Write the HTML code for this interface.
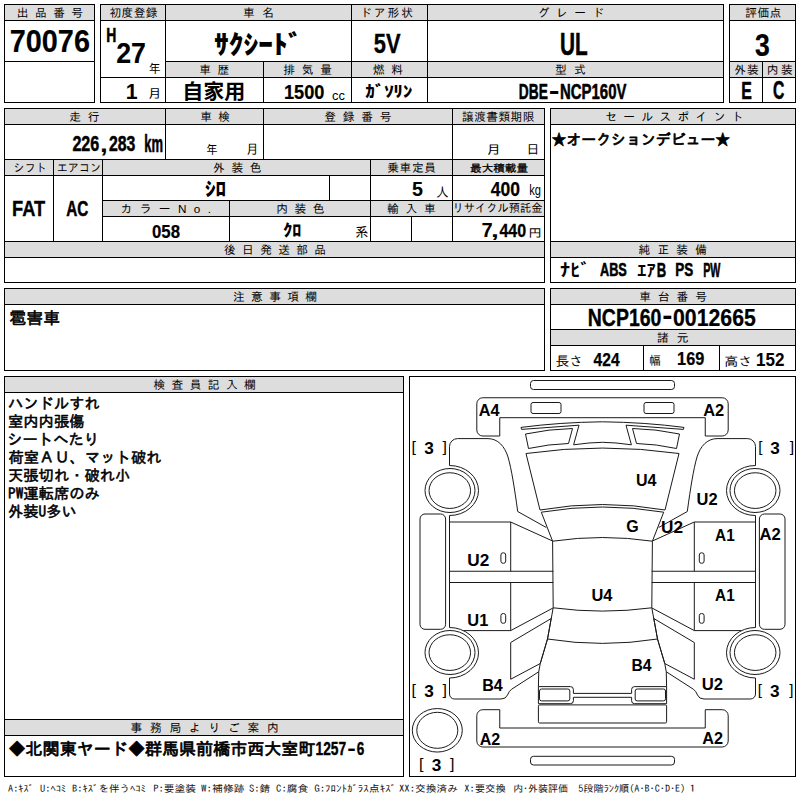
<!DOCTYPE html>
<html lang="ja"><head><meta charset="utf-8"><title>出品票</title>
<style>html,body{margin:0;padding:0;background:#fff;width:800px;height:800px;overflow:hidden}svg{display:block}text{white-space:pre}</style></head>
<body>
<svg width="800" height="800" viewBox="0 0 800 800">
<rect width="800" height="800" fill="#fff"/>
<g shape-rendering="crispEdges">
<rect x="4" y="4" width="90" height="16" fill="#dddddd"/>
<rect x="100" y="4" width="623" height="16" fill="#dddddd"/>
<rect x="165" y="61" width="558" height="16" fill="#dddddd"/>
<rect x="729" y="4" width="66" height="16" fill="#dddddd"/>
<rect x="729" y="61" width="66" height="16" fill="#dddddd"/>
<rect x="4" y="108" width="540" height="16" fill="#dddddd"/>
<rect x="4" y="159" width="540" height="16" fill="#dddddd"/>
<rect x="102" y="200" width="442" height="16" fill="#dddddd"/>
<rect x="4" y="241" width="540" height="16" fill="#dddddd"/>
<rect x="550" y="108" width="245" height="16" fill="#dddddd"/>
<rect x="550" y="241" width="245" height="16" fill="#dddddd"/>
<rect x="4" y="288" width="540" height="16" fill="#dddddd"/>
<rect x="550" y="288" width="245" height="16" fill="#dddddd"/>
<rect x="550" y="329" width="245" height="16" fill="#dddddd"/>
<rect x="4" y="376" width="399" height="16" fill="#dddddd"/>
<rect x="4" y="719" width="399" height="16" fill="#dddddd"/>
<rect x="4" y="4" width="91" height="1" fill="#000"/>
<rect x="4" y="102" width="91" height="1" fill="#000"/>
<rect x="4" y="20" width="91" height="1" fill="#000"/>
<rect x="4" y="61" width="91" height="1" fill="#000"/>
<rect x="100" y="4" width="624" height="1" fill="#000"/>
<rect x="100" y="102" width="624" height="1" fill="#000"/>
<rect x="100" y="20" width="624" height="1" fill="#000"/>
<rect x="165" y="61" width="559" height="1" fill="#000"/>
<rect x="100" y="77" width="624" height="1" fill="#000"/>
<rect x="729" y="4" width="67" height="1" fill="#000"/>
<rect x="729" y="102" width="67" height="1" fill="#000"/>
<rect x="729" y="20" width="67" height="1" fill="#000"/>
<rect x="729" y="61" width="67" height="1" fill="#000"/>
<rect x="729" y="77" width="67" height="1" fill="#000"/>
<rect x="4" y="108" width="541" height="1" fill="#000"/>
<rect x="4" y="282" width="541" height="1" fill="#000"/>
<rect x="4" y="124" width="541" height="1" fill="#000"/>
<rect x="4" y="159" width="541" height="1" fill="#000"/>
<rect x="4" y="175" width="541" height="1" fill="#000"/>
<rect x="102" y="200" width="443" height="1" fill="#000"/>
<rect x="102" y="216" width="443" height="1" fill="#000"/>
<rect x="4" y="241" width="541" height="1" fill="#000"/>
<rect x="4" y="257" width="541" height="1" fill="#000"/>
<rect x="550" y="108" width="246" height="1" fill="#000"/>
<rect x="550" y="282" width="246" height="1" fill="#000"/>
<rect x="550" y="124" width="246" height="1" fill="#000"/>
<rect x="550" y="241" width="246" height="1" fill="#000"/>
<rect x="550" y="257" width="246" height="1" fill="#000"/>
<rect x="4" y="288" width="541" height="1" fill="#000"/>
<rect x="4" y="370" width="541" height="1" fill="#000"/>
<rect x="4" y="304" width="541" height="1" fill="#000"/>
<rect x="550" y="288" width="246" height="1" fill="#000"/>
<rect x="550" y="370" width="246" height="1" fill="#000"/>
<rect x="550" y="304" width="246" height="1" fill="#000"/>
<rect x="550" y="329" width="246" height="1" fill="#000"/>
<rect x="550" y="345" width="246" height="1" fill="#000"/>
<rect x="4" y="376" width="400" height="1" fill="#000"/>
<rect x="4" y="776" width="400" height="1" fill="#000"/>
<rect x="4" y="392" width="400" height="1" fill="#000"/>
<rect x="4" y="719" width="400" height="1" fill="#000"/>
<rect x="4" y="735" width="400" height="1" fill="#000"/>
<rect x="409" y="376" width="387" height="1" fill="#000"/>
<rect x="409" y="776" width="387" height="1" fill="#000"/>
<rect x="4" y="4" width="1" height="99" fill="#000"/>
<rect x="94" y="4" width="1" height="99" fill="#000"/>
<rect x="100" y="4" width="1" height="99" fill="#000"/>
<rect x="723" y="4" width="1" height="99" fill="#000"/>
<rect x="165" y="4" width="1" height="99" fill="#000"/>
<rect x="263" y="61" width="1" height="42" fill="#000"/>
<rect x="351" y="4" width="1" height="99" fill="#000"/>
<rect x="427" y="4" width="1" height="99" fill="#000"/>
<rect x="729" y="4" width="1" height="99" fill="#000"/>
<rect x="795" y="4" width="1" height="99" fill="#000"/>
<rect x="762" y="61" width="1" height="42" fill="#000"/>
<rect x="4" y="108" width="1" height="175" fill="#000"/>
<rect x="544" y="108" width="1" height="175" fill="#000"/>
<rect x="165" y="108" width="1" height="52" fill="#000"/>
<rect x="263" y="108" width="1" height="52" fill="#000"/>
<rect x="452" y="108" width="1" height="134" fill="#000"/>
<rect x="53" y="159" width="1" height="83" fill="#000"/>
<rect x="102" y="159" width="1" height="83" fill="#000"/>
<rect x="370" y="159" width="1" height="83" fill="#000"/>
<rect x="329" y="175" width="1" height="26" fill="#000"/>
<rect x="229" y="200" width="1" height="42" fill="#000"/>
<rect x="411" y="216" width="1" height="26" fill="#000"/>
<rect x="550" y="108" width="1" height="175" fill="#000"/>
<rect x="795" y="108" width="1" height="175" fill="#000"/>
<rect x="4" y="288" width="1" height="83" fill="#000"/>
<rect x="544" y="288" width="1" height="83" fill="#000"/>
<rect x="550" y="288" width="1" height="83" fill="#000"/>
<rect x="795" y="288" width="1" height="83" fill="#000"/>
<rect x="643" y="345" width="1" height="26" fill="#000"/>
<rect x="719" y="345" width="1" height="26" fill="#000"/>
<rect x="4" y="376" width="1" height="401" fill="#000"/>
<rect x="403" y="376" width="1" height="401" fill="#000"/>
<rect x="409" y="376" width="1" height="401" fill="#000"/>
<rect x="795" y="376" width="1" height="401" fill="#000"/>
</g>
<g fill="none" stroke="#1a1a1a" stroke-width="1.0" stroke-linejoin="round">
<rect x="530.5" y="380.5" width="144.00" height="9.00" rx="3" ry="3"/>
<rect x="530.5" y="756.3" width="144.00" height="8.70" rx="3" ry="3"/>
<path d="M499.75,417.7 H705.25 V436 H722.2 A6,6 0 0 0 728.2,430 V403.75 A6,6 0 0 0 722.2,397.75 H482.8 A6,6 0 0 0 476.8,403.75 V430 A6,6 0 0 0 482.8,436 H499.75 Z"/>
<path d="M499.75,728 H705.25 V709.7 H722.2 A6,6 0 0 1 728.2,715.7 V741 A6,6 0 0 1 722.2,747 H482.8 A6,6 0 0 1 476.8,741 V715.7 A6,6 0 0 1 482.8,709.7 H499.75 Z"/>
<path d="M579,425.2 L521.6,429.4 L521,427.4 Q560,422.3 602.5,421.8 Q645.0,422.3 684.0,427.4 L683.4,429.4 L626.0,425.2 L631.4,444.8 Q615.0,442.4 602.5,442.3 Q590,442.4 573.6,444.8 Z"/>
<path d="M526,453.5 Q602.5,442.6 679.0,453.5 L665.0,510 Q602.5,499 540,510 Z"/>
<path d="M541.3,512.2 Q602.5,501.8 663.7,512.2 L652.4,541.2 Q602.5,533.8 552.6,541.2 Z"/>
<path d="M552.6,541.2 L553.2,607.8 Q602.5,614.4 651.8,607.8 L652.4,541.2"/>
<path d="M553.2,607.8 L547.5,639 L540.25,663.5 L538.75,671.75 L538.4,686.6 M666.6,686.6 L666.25,671.75 L664.75,663.5 L657.5,639 L651.8,607.8"/>
<path d="M547.5,639 Q602.5,647.8 657.5,639"/>
<path d="M538.4,686.6 V703.7 H570.3 A3,3 0 0 0 573.4,700.7 V697.3 H631.6 V700.7 A3,3 0 0 0 634.7,703.7 H666.6 V686.6"/>
<path d="M538.4,686.6 H570.3 A3,3 0 0 1 573.4,689.6 V693.4 H631.6 V689.6 A3,3 0 0 1 634.7,686.6 H666.6"/>
<rect x="538.4" y="704.9" width="128.20" height="18.10" rx="1.2" ry="1.2"/>
<ellipse cx="437.3" cy="730.3" rx="25" ry="21.75"/>
<ellipse cx="437.3" cy="730.3" rx="20.5" ry="18"/>
<rect x="531" y="402.5" width="30.00" height="11.00" rx="2" ry="2"/>
<path d="M525.5,434 Q549,429 572.5,428.5 L568.5,443.5 Q549,444 528.5,448.5 Z"/>
<path d="M449.5,465.5 V446.6 A8,8 0 0 1 457.5,438.6 H488 C498,438.8 504.5,446 508,457 C511.5,469 514.5,488 517.7,511.5 L546.3,527.5"/>
<path d="M449.5,465.5 A29,25 0 0 1 449.5,515.5"/>
<ellipse cx="450" cy="490.5" rx="25" ry="22"/>
<ellipse cx="449.8" cy="490.6" rx="20.75" ry="17.85"/>
<rect x="420" y="514" width="25.60" height="115.30" rx="5" ry="5"/>
<path d="M449.5,515.5 V627.5"/>
<path d="M449.5,522 H510.7 L552.6,541"/>
<path d="M449.5,571.25 H553.3"/>
<path d="M449.5,582.5 H553.3"/>
<path d="M463.6,630.6 H510.7 L553,608"/>
<path d="M510.7,522 V571.25 M510.7,582.5 V630.5"/>
<rect x="500.9" y="552.8" width="4.80" height="10.50" rx="2.2" ry="2.2"/>
<rect x="500.9" y="613.5" width="4.80" height="9.80" rx="2.2" ry="2.2"/>
<path d="M449.5,627.5 A29,25.25 0 0 1 449.5,678"/>
<ellipse cx="450" cy="652.5" rx="25" ry="22"/>
<ellipse cx="449.8" cy="652.6" rx="20.75" ry="17.85"/>
<path d="M449.5,678 V694 A5,5 0 0 0 454.5,699 H501 Q506,699 507.5,695 Q509,691.2 511.5,689.3 L538.75,671.75"/>
<path d="M510.7,642.5 L551.2,618.5 L547.5,639 L540.25,663.5 L510.7,679.25 Z"/>
<rect x="539.5" y="689" width="30.30" height="11.90" rx="2" ry="2"/>
<g transform="translate(1205.0,0) scale(-1,1)">
<rect x="531" y="402.5" width="30.00" height="11.00" rx="2" ry="2"/>
<path d="M525.5,434 Q549,429 572.5,428.5 L568.5,443.5 Q549,444 528.5,448.5 Z"/>
<path d="M449.5,465.5 V446.6 A8,8 0 0 1 457.5,438.6 H488 C498,438.8 504.5,446 508,457 C511.5,469 514.5,488 517.7,511.5 L546.3,527.5"/>
<path d="M449.5,465.5 A29,25 0 0 1 449.5,515.5"/>
<ellipse cx="450" cy="490.5" rx="25" ry="22"/>
<ellipse cx="449.8" cy="490.6" rx="20.75" ry="17.85"/>
<rect x="420" y="514" width="25.60" height="115.30" rx="5" ry="5"/>
<path d="M449.5,515.5 V627.5"/>
<path d="M449.5,522 H510.7 L552.6,541"/>
<path d="M449.5,571.25 H553.3"/>
<path d="M449.5,582.5 H553.3"/>
<path d="M463.6,630.6 H510.7 L553,608"/>
<path d="M510.7,522 V571.25 M510.7,582.5 V630.5"/>
<rect x="500.9" y="552.8" width="4.80" height="10.50" rx="2.2" ry="2.2"/>
<rect x="500.9" y="613.5" width="4.80" height="9.80" rx="2.2" ry="2.2"/>
<path d="M449.5,627.5 A29,25.25 0 0 1 449.5,678"/>
<ellipse cx="450" cy="652.5" rx="25" ry="22"/>
<ellipse cx="449.8" cy="652.6" rx="20.75" ry="17.85"/>
<path d="M449.5,678 V694 A5,5 0 0 0 454.5,699 H501 Q506,699 507.5,695 Q509,691.2 511.5,689.3 L538.75,671.75"/>
<path d="M510.7,642.5 L551.2,618.5 L547.5,639 L540.25,663.5 L510.7,679.25 Z"/>
<rect x="539.5" y="689" width="30.30" height="11.90" rx="2" ry="2"/>
</g>
</g>
<g fill="#000">
<text x="16.75" y="17.35" font-size="11.73" font-family='"IPAGothic", "Noto Sans CJK JP", monospace' font-weight="normal" textLength="66.32" lengthAdjust="spacing">出品番号</text>
<text x="109.50" y="17.35" font-size="11.73" font-family='"IPAGothic", "Noto Sans CJK JP", monospace' font-weight="normal" textLength="48.02" lengthAdjust="spacing">初度登録</text>
<text x="243.00" y="17.35" font-size="11.73" font-family='"IPAGothic", "Noto Sans CJK JP", monospace' font-weight="normal" textLength="30.88" lengthAdjust="spacing">車名</text>
<text x="360.15" y="17.35" font-size="11.73" font-family='"IPAGothic", "Noto Sans CJK JP", monospace' font-weight="normal" textLength="52.86" lengthAdjust="spacing">ドア形状</text>
<text x="537.75" y="17.35" font-size="11.73" font-family='"IPAGothic", "Noto Sans CJK JP", monospace' font-weight="normal" textLength="66.51" lengthAdjust="spacing">グレード</text>
<text x="745.25" y="17.35" font-size="11.73" font-family='"IPAGothic", "Noto Sans CJK JP", monospace' font-weight="normal" textLength="36.09" lengthAdjust="spacing">評価点</text>
<text x="199.25" y="74.35" font-size="11.73" font-family='"IPAGothic", "Noto Sans CJK JP", monospace' font-weight="normal" textLength="29.91" lengthAdjust="spacing">車歴</text>
<text x="283.25" y="74.35" font-size="11.73" font-family='"IPAGothic", "Noto Sans CJK JP", monospace' font-weight="normal" textLength="48.64" lengthAdjust="spacing">排気量</text>
<text x="372.90" y="74.35" font-size="11.73" font-family='"IPAGothic", "Noto Sans CJK JP", monospace' font-weight="normal" textLength="30.00" lengthAdjust="spacing">燃料</text>
<text x="555.00" y="74.35" font-size="11.73" font-family='"IPAGothic", "Noto Sans CJK JP", monospace' font-weight="normal" textLength="30.62" lengthAdjust="spacing">型式</text>
<text x="734.25" y="74.35" font-size="11.73" font-family='"IPAGothic", "Noto Sans CJK JP", monospace' font-weight="normal" textLength="24.40" lengthAdjust="spacing">外装</text>
<text x="766.75" y="74.35" font-size="11.73" font-family='"IPAGothic", "Noto Sans CJK JP", monospace' font-weight="normal" textLength="25.89" lengthAdjust="spacing">内装</text>
<text x="69.25" y="121.35" font-size="11.73" font-family='"IPAGothic", "Noto Sans CJK JP", monospace' font-weight="normal" textLength="30.15" lengthAdjust="spacing">走行</text>
<text x="200.25" y="121.35" font-size="11.73" font-family='"IPAGothic", "Noto Sans CJK JP", monospace' font-weight="normal" textLength="29.83" lengthAdjust="spacing">車検</text>
<text x="324.25" y="121.35" font-size="11.73" font-family='"IPAGothic", "Noto Sans CJK JP", monospace' font-weight="normal" textLength="67.26" lengthAdjust="spacing">登録番号</text>
<text x="462.00" y="121.35" font-size="11.73" font-family='"IPAGothic", "Noto Sans CJK JP", monospace' font-weight="normal" textLength="72.37" lengthAdjust="spacing">譲渡書類期限</text>
<text x="605.25" y="121.35" font-size="11.73" font-family='"IPAGothic", "Noto Sans CJK JP", monospace' font-weight="normal" textLength="138.23" lengthAdjust="spacing">セールスポイント</text>
<text x="13.60" y="172.35" font-size="11.73" font-family='"IPAGothic", "Noto Sans CJK JP", monospace' font-weight="normal" textLength="33.13" lengthAdjust="spacingAndGlyphs">シフト</text>
<text x="56.80" y="172.35" font-size="11.73" font-family='"IPAGothic", "Noto Sans CJK JP", monospace' font-weight="normal" textLength="44.25" lengthAdjust="spacingAndGlyphs">エアコン</text>
<text x="213.00" y="172.35" font-size="11.73" font-family='"IPAGothic", "Noto Sans CJK JP", monospace' font-weight="normal" textLength="48.50" lengthAdjust="spacing">外装色</text>
<text x="387.25" y="172.35" font-size="11.73" font-family='"IPAGothic", "Noto Sans CJK JP", monospace' font-weight="normal" textLength="48.74" lengthAdjust="spacing">乗車定員</text>
<text x="470.10" y="172.20" font-size="10.41" font-family='"IPAGothic", "Noto Sans CJK JP", monospace' font-weight="normal" textLength="57.96" lengthAdjust="spacingAndGlyphs" stroke="#000" stroke-width="0.3" stroke-linejoin="round">最大積載量</text>
<text x="120.50" y="213.35" font-size="11.73" font-family='"Liberation Sans", "IPAGothic", "Noto Sans CJK JP", monospace' font-weight="normal" textLength="90.54" lengthAdjust="spacing">カラーNo.</text>
<text x="276.25" y="213.35" font-size="11.73" font-family='"IPAGothic", "Noto Sans CJK JP", monospace' font-weight="normal" textLength="48.23" lengthAdjust="spacing">内装色</text>
<text x="387.00" y="213.35" font-size="11.73" font-family='"IPAGothic", "Noto Sans CJK JP", monospace' font-weight="normal" textLength="48.64" lengthAdjust="spacing">輸入車</text>
<text x="452.60" y="212.22" font-size="11.56" font-family='"IPAGothic", "Noto Sans CJK JP", monospace' font-weight="normal" textLength="89.81" lengthAdjust="spacingAndGlyphs">リサイクル預託金</text>
<text x="224.00" y="254.35" font-size="11.73" font-family='"IPAGothic", "Noto Sans CJK JP", monospace' font-weight="normal" textLength="102.05" lengthAdjust="spacing">後日発送部品</text>
<text x="638.50" y="254.35" font-size="11.73" font-family='"IPAGothic", "Noto Sans CJK JP", monospace' font-weight="normal" textLength="68.53" lengthAdjust="spacing">純正装備</text>
<text x="233.00" y="301.35" font-size="11.73" font-family='"IPAGothic", "Noto Sans CJK JP", monospace' font-weight="normal" textLength="84.02" lengthAdjust="spacing">注意事項欄</text>
<text x="639.25" y="301.35" font-size="11.73" font-family='"IPAGothic", "Noto Sans CJK JP", monospace' font-weight="normal" textLength="67.72" lengthAdjust="spacing">車台番号</text>
<text x="657.10" y="342.35" font-size="11.73" font-family='"IPAGothic", "Noto Sans CJK JP", monospace' font-weight="normal" textLength="31.49" lengthAdjust="spacing">諸元</text>
<text x="153.50" y="389.35" font-size="11.73" font-family='"IPAGothic", "Noto Sans CJK JP", monospace' font-weight="normal" textLength="102.28" lengthAdjust="spacing">検査員記入欄</text>
<text x="130.50" y="732.35" font-size="11.73" font-family='"IPAGothic", "Noto Sans CJK JP", monospace' font-weight="normal" textLength="148.29" lengthAdjust="spacing">事務局よりご案内</text>
<text x="9.75" y="52.00" font-size="31.25" font-family='"Liberation Sans", sans-serif' font-weight="bold" textLength="80.20" lengthAdjust="spacingAndGlyphs" stroke="#000" stroke-width="0.16" stroke-linejoin="round">70076</text>
<text x="106.25" y="42.25" font-size="20.14" font-family='"Liberation Sans", sans-serif' font-weight="bold" textLength="10.09" lengthAdjust="spacingAndGlyphs" stroke="#000" stroke-width="0.52" stroke-linejoin="round">H</text>
<text x="116.25" y="63.00" font-size="29.18" font-family='"Liberation Sans", sans-serif' font-weight="bold" textLength="29.75" lengthAdjust="spacingAndGlyphs" stroke="#000" stroke-width="0.12" stroke-linejoin="round">27</text>
<text x="148.75" y="72.88" font-size="12.51" font-family='"IPAGothic", "Noto Sans CJK JP", monospace' font-weight="normal" textLength="11.79" lengthAdjust="spacingAndGlyphs">年</text>
<text x="125.75" y="98.75" font-size="21.93" font-family='"Liberation Sans", sans-serif' font-weight="bold" textLength="11.86" lengthAdjust="spacingAndGlyphs">1</text>
<text x="147.75" y="97.75" font-size="12.59" font-family='"IPAGothic", "Noto Sans CJK JP", monospace' font-weight="normal" textLength="13.91" lengthAdjust="spacingAndGlyphs">月</text>
<text x="213.90" y="53.85" font-size="26.08" font-family='"Noto Sans CJK JP", sans-serif' font-weight="900" textLength="88.68" lengthAdjust="spacingAndGlyphs">ｻｸｼｰﾄﾞ</text>
<text x="373.80" y="53.30" font-size="27.30" font-family='"Liberation Sans", sans-serif' font-weight="bold" textLength="26.74" lengthAdjust="spacingAndGlyphs" stroke="#000" stroke-width="0.34" stroke-linejoin="round">5V</text>
<text x="560.10" y="54.50" font-size="30.77" font-family='"Liberation Sans", sans-serif' font-weight="bold" textLength="27.68" lengthAdjust="spacingAndGlyphs" stroke="#000" stroke-width="0.56" stroke-linejoin="round">UL</text>
<text x="755.00" y="56.20" font-size="30.97" font-family='"Liberation Sans", sans-serif' font-weight="bold" textLength="14.77" lengthAdjust="spacingAndGlyphs" stroke="#000" stroke-width="0.24" stroke-linejoin="round">3</text>
<text x="182.20" y="98.67" font-size="20.62" font-family='"Liberation Sans", "Noto Sans CJK JP", sans-serif' font-weight="bold" textLength="63.11" lengthAdjust="spacingAndGlyphs">自家用</text>
<text x="284.00" y="99.25" font-size="20.83" font-family='"Liberation Sans", sans-serif' font-weight="bold" textLength="40.46" lengthAdjust="spacingAndGlyphs" stroke="#000" stroke-width="0.23" stroke-linejoin="round">1500</text>
<text x="332.00" y="99.62" font-size="13.47" font-family='"Liberation Sans", sans-serif' font-weight="normal" textLength="12.87" lengthAdjust="spacingAndGlyphs">cc</text>
<text x="365.25" y="97.40" font-size="15.68" font-family='"Noto Sans CJK JP", sans-serif' font-weight="900" textLength="47.25" lengthAdjust="spacingAndGlyphs">ｶﾞｿﾘﾝ</text>
<text x="518.85" y="99.35" font-size="21.81" font-family='"Liberation Sans", sans-serif' font-weight="bold" textLength="28.95" lengthAdjust="spacingAndGlyphs" stroke="#000" stroke-width="0.6" stroke-linejoin="round">DBE</text>
<text x="548.65" y="98.60" font-size="25.00" font-family='"Liberation Sans", sans-serif' font-weight="bold" textLength="10.74" lengthAdjust="spacingAndGlyphs">-</text>
<text x="560.00" y="99.10" font-size="21.47" font-family='"Liberation Sans", sans-serif' font-weight="bold" textLength="66.42" lengthAdjust="spacingAndGlyphs" stroke="#000" stroke-width="0.55" stroke-linejoin="round">NCP160V</text>
<text x="741.25" y="99.05" font-size="24.66" font-family='"Liberation Sans", sans-serif' font-weight="bold" textLength="10.59" lengthAdjust="spacingAndGlyphs" stroke="#000" stroke-width="0.6" stroke-linejoin="round">E</text>
<text x="772.90" y="99.30" font-size="25.22" font-family='"Liberation Sans", sans-serif' font-weight="bold" textLength="11.34" lengthAdjust="spacingAndGlyphs" stroke="#000" stroke-width="0.6" stroke-linejoin="round">C</text>
<text x="72.40" y="151.30" font-size="22.16" font-family='"Liberation Sans", sans-serif' font-weight="bold" textLength="26.90" lengthAdjust="spacingAndGlyphs" stroke="#000" stroke-width="0.49" stroke-linejoin="round">226</text>
<text x="100.00" y="152.00" font-size="23.03" font-family='"Liberation Sans", sans-serif' font-weight="bold" textLength="7.76" lengthAdjust="spacingAndGlyphs">,</text>
<text x="108.95" y="151.30" font-size="22.16" font-family='"Liberation Sans", sans-serif' font-weight="bold" textLength="26.44" lengthAdjust="spacingAndGlyphs" stroke="#000" stroke-width="0.5" stroke-linejoin="round">283</text>
<text x="144.25" y="151.55" font-size="24.28" font-family='"Liberation Sans", sans-serif' font-weight="bold" textLength="18.77" lengthAdjust="spacingAndGlyphs" stroke="#000" stroke-width="0.6" stroke-linejoin="round">km</text>
<text x="206.25" y="154.12" font-size="12.51" font-family='"IPAGothic", "Noto Sans CJK JP", monospace' font-weight="normal" textLength="11.27" lengthAdjust="spacingAndGlyphs">年</text>
<text x="246.00" y="154.00" font-size="13.27" font-family='"IPAGothic", "Noto Sans CJK JP", monospace' font-weight="normal" textLength="12.60" lengthAdjust="spacingAndGlyphs">月</text>
<text x="486.25" y="154.12" font-size="12.26" font-family='"IPAGothic", "Noto Sans CJK JP", monospace' font-weight="normal" textLength="14.91" lengthAdjust="spacingAndGlyphs">月</text>
<text x="526.50" y="154.38" font-size="13.05" font-family='"IPAGothic", "Noto Sans CJK JP", monospace' font-weight="normal" textLength="12.85" lengthAdjust="spacingAndGlyphs">日</text>
<text x="551.50" y="145.02" font-size="15.01" font-family='"IPAGothic", "Noto Sans CJK JP", monospace' font-weight="normal" textLength="178.72" lengthAdjust="spacingAndGlyphs" stroke="#000" stroke-width="0.75" stroke-linejoin="round">★オークションデビュー★</text>
<text x="12.00" y="216.35" font-size="22.85" font-family='"Liberation Sans", sans-serif' font-weight="bold" textLength="33.16" lengthAdjust="spacingAndGlyphs" stroke="#000" stroke-width="0.37" stroke-linejoin="round">FAT</text>
<text x="66.15" y="216.10" font-size="22.16" font-family='"Liberation Sans", sans-serif' font-weight="bold" textLength="22.14" lengthAdjust="spacingAndGlyphs" stroke="#000" stroke-width="0.54" stroke-linejoin="round">AC</text>
<text x="205.00" y="196.25" font-size="19.15" font-family='"Noto Sans CJK JP", sans-serif' font-weight="900" textLength="21.22" lengthAdjust="spacingAndGlyphs">ｼﾛ</text>
<text x="412.00" y="196.25" font-size="20.64" font-family='"Liberation Sans", sans-serif' font-weight="bold" textLength="11.03" lengthAdjust="spacingAndGlyphs" stroke="#000" stroke-width="0.06" stroke-linejoin="round">5</text>
<text x="436.00" y="196.75" font-size="13.27" font-family='"IPAGothic", "Noto Sans CJK JP", monospace' font-weight="normal" textLength="12.75" lengthAdjust="spacingAndGlyphs">人</text>
<text x="490.75" y="196.25" font-size="20.28" font-family='"Liberation Sans", sans-serif' font-weight="bold" textLength="29.20" lengthAdjust="spacingAndGlyphs" stroke="#000" stroke-width="0.25" stroke-linejoin="round">400</text>
<text x="529.25" y="194.50" font-size="14.79" font-family='"Liberation Sans", sans-serif' font-weight="normal" textLength="11.73" lengthAdjust="spacingAndGlyphs">kg</text>
<text x="152.00" y="237.75" font-size="18.75" font-family='"Liberation Sans", sans-serif' font-weight="bold" textLength="28.01" lengthAdjust="spacingAndGlyphs" stroke="#000" stroke-width="0.19" stroke-linejoin="round">058</text>
<text x="283.25" y="235.70" font-size="15.50" font-family='"Noto Sans CJK JP", sans-serif' font-weight="900" textLength="18.18" lengthAdjust="spacingAndGlyphs">ｸﾛ</text>
<text x="355.00" y="237.00" font-size="13.79" font-family='"IPAGothic", "Noto Sans CJK JP", monospace' font-weight="normal" textLength="13.44" lengthAdjust="spacingAndGlyphs">系</text>
<text x="481.50" y="236.90" font-size="19.89" font-family='"Liberation Sans", sans-serif' font-weight="bold" textLength="11.19" lengthAdjust="spacingAndGlyphs">7</text>
<text x="491.00" y="236.88" font-size="19.20" font-family='"Liberation Sans", sans-serif' font-weight="bold" textLength="7.83" lengthAdjust="spacingAndGlyphs">,</text>
<text x="499.40" y="236.65" font-size="19.17" font-family='"Liberation Sans", sans-serif' font-weight="bold" textLength="26.68" lengthAdjust="spacingAndGlyphs" stroke="#000" stroke-width="0.29" stroke-linejoin="round">440</text>
<text x="528.25" y="236.88" font-size="11.51" font-family='"IPAGothic", "Noto Sans CJK JP", monospace' font-weight="normal" textLength="13.64" lengthAdjust="spacingAndGlyphs">円</text>
<text x="560.05" y="276.17" font-size="16.78" font-family='"Noto Sans CJK JP", sans-serif' font-weight="bold" textLength="30.27" lengthAdjust="spacingAndGlyphs">ﾅﾋﾞ</text>
<text x="600.00" y="276.30" font-size="19.19" font-family='"Liberation Sans", sans-serif' font-weight="bold" textLength="26.84" lengthAdjust="spacingAndGlyphs" stroke="#000" stroke-width="0.6" stroke-linejoin="round">ABS</text>
<text x="637.25" y="276.05" font-size="16.10" font-family='"Noto Sans CJK JP", sans-serif' font-weight="bold" textLength="18.28" lengthAdjust="spacingAndGlyphs">ｴｱ</text>
<text x="656.85" y="276.55" font-size="19.86" font-family='"Liberation Sans", sans-serif' font-weight="bold" textLength="9.44" lengthAdjust="spacingAndGlyphs" stroke="#000" stroke-width="0.55" stroke-linejoin="round">B</text>
<text x="675.25" y="276.30" font-size="19.19" font-family='"Liberation Sans", sans-serif' font-weight="bold" textLength="17.92" lengthAdjust="spacingAndGlyphs" stroke="#000" stroke-width="0.53" stroke-linejoin="round">PS</text>
<text x="703.20" y="276.55" font-size="19.86" font-family='"Liberation Sans", sans-serif' font-weight="bold" textLength="17.25" lengthAdjust="spacingAndGlyphs" stroke="#000" stroke-width="0.6" stroke-linejoin="round">PW</text>
<text x="9.25" y="323.87" font-size="16.53" font-family='"IPAGothic", "Noto Sans CJK JP", monospace' font-weight="normal" textLength="50.82" lengthAdjust="spacingAndGlyphs" stroke="#000" stroke-width="0.6" stroke-linejoin="round">雹害車</text>
<text x="587.75" y="326.10" font-size="24.10" font-family='"Liberation Sans", sans-serif' font-weight="bold" textLength="73.67" lengthAdjust="spacingAndGlyphs" stroke="#000" stroke-width="0.36" stroke-linejoin="round">NCP160</text>
<text x="662.35" y="325.43" font-size="27.89" font-family='"Liberation Sans", sans-serif' font-weight="bold" textLength="10.19" lengthAdjust="spacingAndGlyphs">-</text>
<text x="673.05" y="326.10" font-size="24.45" font-family='"Liberation Sans", sans-serif' font-weight="bold" textLength="82.78" lengthAdjust="spacingAndGlyphs" stroke="#000" stroke-width="0.24" stroke-linejoin="round">0012665</text>
<text x="555.50" y="365.50" font-size="13.36" font-family='"IPAGothic", "Noto Sans CJK JP", monospace' font-weight="normal" textLength="27.61" lengthAdjust="spacingAndGlyphs">長さ</text>
<text x="593.60" y="365.55" font-size="18.06" font-family='"Liberation Sans", sans-serif' font-weight="bold" textLength="26.06" lengthAdjust="spacingAndGlyphs" stroke="#000" stroke-width="0.25" stroke-linejoin="round">424</text>
<text x="649.25" y="365.12" font-size="12.23" font-family='"IPAGothic", "Noto Sans CJK JP", monospace' font-weight="normal" textLength="11.45" lengthAdjust="spacingAndGlyphs">幅</text>
<text x="677.10" y="365.35" font-size="18.47" font-family='"Liberation Sans", sans-serif' font-weight="bold" textLength="27.22" lengthAdjust="spacingAndGlyphs" stroke="#000" stroke-width="0.23" stroke-linejoin="round">169</text>
<text x="724.25" y="365.50" font-size="12.67" font-family='"IPAGothic", "Noto Sans CJK JP", monospace' font-weight="normal" textLength="28.06" lengthAdjust="spacingAndGlyphs">高さ</text>
<text x="756.00" y="365.55" font-size="18.06" font-family='"Liberation Sans", sans-serif' font-weight="bold" textLength="28.46" lengthAdjust="spacingAndGlyphs" stroke="#000" stroke-width="0.09" stroke-linejoin="round">152</text>
<text x="8.00" y="409.00" font-size="15.30" font-family='"IPAGothic", "Noto Sans CJK JP", monospace' font-weight="normal" stroke="#000" stroke-width="0.55" stroke-linejoin="round">ハンドルすれ</text>
<text x="8.00" y="427.00" font-size="15.30" font-family='"IPAGothic", "Noto Sans CJK JP", monospace' font-weight="normal" stroke="#000" stroke-width="0.55" stroke-linejoin="round">室内内張傷</text>
<text x="7.25" y="445.00" font-size="15.30" font-family='"IPAGothic", "Noto Sans CJK JP", monospace' font-weight="normal" stroke="#000" stroke-width="0.55" stroke-linejoin="round">シートへたり</text>
<text x="8.50" y="463.00" font-size="15.30" font-family='"IPAGothic", "Noto Sans CJK JP", monospace' font-weight="normal" stroke="#000" stroke-width="0.55" stroke-linejoin="round">荷室ＡＵ、マット破れ</text>
<text x="8.00" y="481.00" font-size="15.30" font-family='"IPAGothic", "Noto Sans CJK JP", monospace' font-weight="normal" stroke="#000" stroke-width="0.55" stroke-linejoin="round">天張切れ・破れ小</text>
<text x="8.00" y="499.00" font-size="15.30" font-family='"IPAGothic", "Noto Sans CJK JP", monospace' font-weight="normal" stroke="#000" stroke-width="0.55" stroke-linejoin="round">PW運転席のみ</text>
<text x="8.00" y="517.00" font-size="15.30" font-family='"IPAGothic", "Noto Sans CJK JP", monospace' font-weight="normal" stroke="#000" stroke-width="0.55" stroke-linejoin="round">外装U多い</text>
<text x="8.50" y="754.62" font-size="16.87" font-family='"IPAGothic", "Noto Sans CJK JP", monospace' font-weight="normal" textLength="306.98" lengthAdjust="spacingAndGlyphs" stroke="#000" stroke-width="0.75" stroke-linejoin="round">◆北関東ヤード◆群馬県前橋市西大室町</text>
<text x="315.55" y="755.00" font-size="17.71" font-family='"Liberation Sans", sans-serif' font-weight="bold" textLength="30.59" lengthAdjust="spacingAndGlyphs" stroke="#000" stroke-width="0.4" stroke-linejoin="round">1257</text>
<text x="347.30" y="754.60" font-size="19.61" font-family='"Liberation Sans", sans-serif' font-weight="bold" textLength="8.50" lengthAdjust="spacingAndGlyphs">-</text>
<text x="356.75" y="755.00" font-size="17.71" font-family='"Liberation Sans", sans-serif' font-weight="bold" textLength="7.56" lengthAdjust="spacingAndGlyphs" stroke="#000" stroke-width="0.35" stroke-linejoin="round">6</text>
<text x="478.70" y="415.50" font-size="16.43" font-family='"Liberation Sans", sans-serif' font-weight="bold" textLength="20.75" lengthAdjust="spacingAndGlyphs">A4</text>
<text x="703.20" y="415.50" font-size="16.05" font-family='"Liberation Sans", sans-serif' font-weight="bold" textLength="21.01" lengthAdjust="spacingAndGlyphs">A2</text>
<text x="636.00" y="486.05" font-size="16.05" font-family='"Liberation Sans", sans-serif' font-weight="bold" textLength="20.54" lengthAdjust="spacingAndGlyphs">U4</text>
<text x="696.60" y="505.45" font-size="15.70" font-family='"Liberation Sans", sans-serif' font-weight="bold" textLength="21.04" lengthAdjust="spacingAndGlyphs">U2</text>
<text x="626.25" y="532.25" font-size="15.97" font-family='"Liberation Sans", sans-serif' font-weight="bold" textLength="12.43" lengthAdjust="spacingAndGlyphs">G</text>
<text x="661.00" y="533.05" font-size="15.70" font-family='"Liberation Sans", sans-serif' font-weight="bold" textLength="22.02" lengthAdjust="spacingAndGlyphs">U2</text>
<text x="715.10" y="541.30" font-size="16.43" font-family='"Liberation Sans", sans-serif' font-weight="bold" textLength="19.60" lengthAdjust="spacingAndGlyphs">A1</text>
<text x="759.50" y="539.70" font-size="16.05" font-family='"Liberation Sans", sans-serif' font-weight="bold" textLength="21.25" lengthAdjust="spacingAndGlyphs">A2</text>
<text x="467.25" y="566.05" font-size="15.70" font-family='"Liberation Sans", sans-serif' font-weight="bold" textLength="22.02" lengthAdjust="spacingAndGlyphs">U2</text>
<text x="591.40" y="601.45" font-size="16.05" font-family='"Liberation Sans", sans-serif' font-weight="bold" textLength="21.01" lengthAdjust="spacingAndGlyphs">U4</text>
<text x="715.10" y="601.30" font-size="16.43" font-family='"Liberation Sans", sans-serif' font-weight="bold" textLength="19.60" lengthAdjust="spacingAndGlyphs">A1</text>
<text x="467.25" y="626.05" font-size="16.05" font-family='"Liberation Sans", sans-serif' font-weight="bold" textLength="21.04" lengthAdjust="spacingAndGlyphs">U1</text>
<text x="631.40" y="671.10" font-size="16.43" font-family='"Liberation Sans", sans-serif' font-weight="bold" textLength="20.07" lengthAdjust="spacingAndGlyphs">B4</text>
<text x="482.25" y="690.80" font-size="16.43" font-family='"Liberation Sans", sans-serif' font-weight="bold" textLength="20.54" lengthAdjust="spacingAndGlyphs">B4</text>
<text x="701.80" y="689.95" font-size="15.70" font-family='"Liberation Sans", sans-serif' font-weight="bold" textLength="21.29" lengthAdjust="spacingAndGlyphs">U2</text>
<text x="479.75" y="744.55" font-size="16.05" font-family='"Liberation Sans", sans-serif' font-weight="bold" textLength="20.54" lengthAdjust="spacingAndGlyphs">A2</text>
<text x="702.30" y="744.30" font-size="16.05" font-family='"Liberation Sans", sans-serif' font-weight="bold" textLength="20.78" lengthAdjust="spacingAndGlyphs">A2</text>
<text x="411.50" y="451.93" font-size="14.02" font-family='"Liberation Sans", sans-serif' font-weight="normal" textLength="4.49" lengthAdjust="spacingAndGlyphs">[</text>
<text x="442.55" y="451.93" font-size="14.02" font-family='"Liberation Sans", sans-serif' font-weight="normal" textLength="4.45" lengthAdjust="spacingAndGlyphs">]</text>
<text x="424.15" y="453.95" font-size="16.25" font-family='"Liberation Sans", sans-serif' font-weight="bold" textLength="9.56" lengthAdjust="spacingAndGlyphs">3</text>
<text x="758.30" y="451.93" font-size="14.02" font-family='"Liberation Sans", sans-serif' font-weight="normal" textLength="4.21" lengthAdjust="spacingAndGlyphs">[</text>
<text x="789.80" y="451.93" font-size="14.02" font-family='"Liberation Sans", sans-serif' font-weight="normal" textLength="4.45" lengthAdjust="spacingAndGlyphs">]</text>
<text x="770.20" y="453.95" font-size="16.25" font-family='"Liberation Sans", sans-serif' font-weight="bold" textLength="9.55" lengthAdjust="spacingAndGlyphs">3</text>
<text x="411.50" y="695.33" font-size="14.02" font-family='"Liberation Sans", sans-serif' font-weight="normal" textLength="4.49" lengthAdjust="spacingAndGlyphs">[</text>
<text x="442.55" y="695.33" font-size="14.02" font-family='"Liberation Sans", sans-serif' font-weight="normal" textLength="4.45" lengthAdjust="spacingAndGlyphs">]</text>
<text x="424.15" y="697.35" font-size="16.25" font-family='"Liberation Sans", sans-serif' font-weight="bold" textLength="9.56" lengthAdjust="spacingAndGlyphs">3</text>
<text x="757.80" y="695.33" font-size="14.02" font-family='"Liberation Sans", sans-serif' font-weight="normal" textLength="4.21" lengthAdjust="spacingAndGlyphs">[</text>
<text x="789.20" y="695.33" font-size="14.02" font-family='"Liberation Sans", sans-serif' font-weight="normal" textLength="4.21" lengthAdjust="spacingAndGlyphs">]</text>
<text x="770.10" y="697.35" font-size="16.25" font-family='"Liberation Sans", sans-serif' font-weight="bold" textLength="9.56" lengthAdjust="spacingAndGlyphs">3</text>
<text x="419.00" y="768.53" font-size="14.02" font-family='"Liberation Sans", sans-serif' font-weight="normal" textLength="4.49" lengthAdjust="spacingAndGlyphs">[</text>
<text x="450.05" y="768.53" font-size="14.02" font-family='"Liberation Sans", sans-serif' font-weight="normal" textLength="4.45" lengthAdjust="spacingAndGlyphs">]</text>
<text x="431.65" y="770.55" font-size="16.25" font-family='"Liberation Sans", sans-serif' font-weight="bold" textLength="9.56" lengthAdjust="spacingAndGlyphs">3</text>
<text x="8.00" y="792.15" font-size="9.78" font-family='"IPAGothic", "Noto Sans CJK JP", monospace' font-weight="normal" textLength="25.67" lengthAdjust="spacingAndGlyphs" fill="#111">A:ｷｽﾞ</text>
<text x="40.00" y="792.15" font-size="9.78" font-family='"IPAGothic", "Noto Sans CJK JP", monospace' font-weight="normal" textLength="26.08" lengthAdjust="spacingAndGlyphs" fill="#111">U:ﾍｺﾐ</text>
<text x="72.00" y="792.15" font-size="9.78" font-family='"IPAGothic", "Noto Sans CJK JP", monospace' font-weight="normal" textLength="73.87" lengthAdjust="spacingAndGlyphs" fill="#111">B:ｷｽﾞを伴うﾍｺﾐ</text>
<text x="153.15" y="792.15" font-size="9.78" font-family='"IPAGothic", "Noto Sans CJK JP", monospace' font-weight="normal" textLength="42.76" lengthAdjust="spacingAndGlyphs" fill="#111">P:要塗装</text>
<text x="200.95" y="792.15" font-size="9.78" font-family='"IPAGothic", "Noto Sans CJK JP", monospace' font-weight="normal" textLength="43.89" lengthAdjust="spacingAndGlyphs" fill="#111">W:補修跡</text>
<text x="249.00" y="792.15" font-size="9.78" font-family='"IPAGothic", "Noto Sans CJK JP", monospace' font-weight="normal" textLength="21.19" lengthAdjust="spacingAndGlyphs" fill="#111">S:錆</text>
<text x="276.00" y="792.15" font-size="9.78" font-family='"IPAGothic", "Noto Sans CJK JP", monospace' font-weight="normal" textLength="32.30" lengthAdjust="spacingAndGlyphs" fill="#111">C:腐食</text>
<text x="314.20" y="792.15" font-size="9.78" font-family='"IPAGothic", "Noto Sans CJK JP", monospace' font-weight="normal" textLength="81.90" lengthAdjust="spacingAndGlyphs" fill="#111">G:ﾌﾛﾝﾄｶﾞﾗｽ点ｷｽﾞ</text>
<text x="399.00" y="792.15" font-size="9.78" font-family='"IPAGothic", "Noto Sans CJK JP", monospace' font-weight="normal" textLength="59.01" lengthAdjust="spacingAndGlyphs" fill="#111">XX:交換済み</text>
<text x="464.25" y="792.15" font-size="9.78" font-family='"IPAGothic", "Noto Sans CJK JP", monospace' font-weight="normal" textLength="41.61" lengthAdjust="spacingAndGlyphs" fill="#111">X:要交換</text>
<text x="513.15" y="792.15" font-size="9.78" font-family='"IPAGothic", "Noto Sans CJK JP", monospace' font-weight="normal" textLength="54.88" lengthAdjust="spacingAndGlyphs" fill="#111">内･外装評価</text>
<text x="578.20" y="792.15" font-size="9.78" font-family='"IPAGothic", "Noto Sans CJK JP", monospace' font-weight="normal" textLength="107.14" lengthAdjust="spacingAndGlyphs" fill="#111">5段階ﾗﾝｸ順(A･B･C･D･E)</text>
<text x="689.40" y="792.15" font-size="9.78" font-family='"IPAGothic", "Noto Sans CJK JP", monospace' font-weight="normal" textLength="6.01" lengthAdjust="spacingAndGlyphs" fill="#111">1</text>
</g>
</svg>
</body></html>
